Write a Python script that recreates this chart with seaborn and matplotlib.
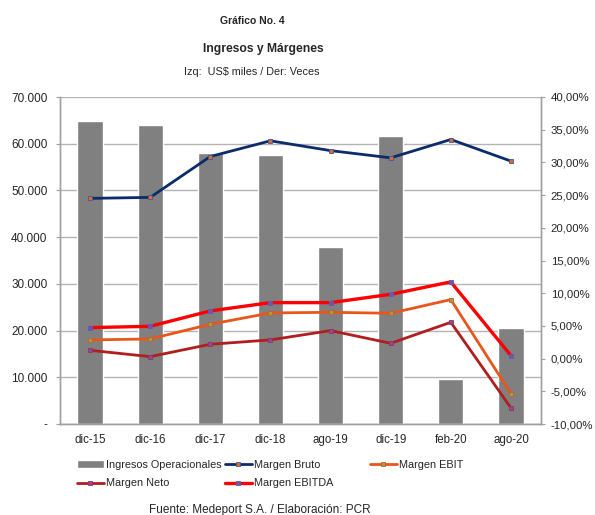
import numpy as np
import pandas as pd
import seaborn as sns
import matplotlib.pyplot as plt
from matplotlib.ticker import FuncFormatter

periodos = ['dic-15', 'dic-16', 'dic-17', 'dic-18', 'ago-19', 'dic-19', 'feb-20', 'ago-20']
ingresos = [64800, 64000, 58000, 57600, 37900, 61600, 9600, 20500]
margen_bruto = [24.5, 24.65, 30.9, 33.3, 31.8, 30.7, 33.5, 30.2]
margen_ebit = [2.86, 3.0, 5.25, 6.98, 7.08, 6.93, 9.02, -5.35]
margen_neto = [1.27, 0.3, 2.19, 2.86, 4.28, 2.34, 5.55, -7.54]
margen_ebitda = [4.74, 4.94, 7.29, 8.56, 8.56, 9.83, 11.73, 0.46]

sns.set_style('white')
plt.rcParams['font.family'] = ['Liberation Sans', 'DejaVu Sans']

df = pd.DataFrame({'periodo': periodos, 'ingresos': ingresos})
pos = np.arange(len(periodos))

fig = plt.figure(figsize=(5.95, 5.15), dpi=100)
ax = fig.add_axes([60 / 595, 1 - 424 / 515, 481 / 595, 327 / 515])

sns.barplot(data=df, x='periodo', y='ingresos', color='#808080', saturation=1,
            width=0.42, ax=ax, label='Ingresos Operacionales', zorder=2)
ax.set_ylim(0, 70000)
ax.set_yticks(np.arange(0, 70001, 10000))
ax.yaxis.set_major_formatter(FuncFormatter(
    lambda v, p: '-' if v == 0 else f'{int(v):,}'.replace(',', '.')))
ax.yaxis.grid(True, color='#b4b4b4', lw=1, zorder=0)
ax.set_axisbelow(True)
ax.set_xlim(-0.5, 7.5)
ax.set_xlabel('')
ax.set_ylabel('')
ax.set_xticks(pos)
ax.set_xticklabels(periodos)
ax.set_xticks(np.arange(-0.5, 8, 1), minor=True)
ax.tick_params(axis='x', which='major', length=0, pad=7, labelsize=8.3)
ax.tick_params(axis='x', which='minor', length=4, color='#a0a0a0', direction='out')
ax.tick_params(axis='y', length=3, color='#a0a0a0', labelsize=8.5, pad=6, left=True)

ax2 = ax.twinx()
series = [
    ('Margen Bruto', margen_bruto, '#0b2b6b', 2.0, '#e06a20', '#3a5aa0'),
    ('Margen EBIT', margen_ebit, '#e8561a', 2.0, '#a0a040', '#c06030'),
    ('Margen Neto', margen_neto, '#b01e1e', 2.0, '#8050a0', '#a03050'),
    ('Margen EBITDA', margen_ebitda, '#ff0000', 2.4, '#8050a0', '#5060c0'),
]
for name, vals, col, lw, mfc, mec in series:
    sns.lineplot(x=pos, y=vals, ax=ax2, color=col, lw=lw, marker='s', markersize=3,
                 markerfacecolor=mfc, markeredgecolor=mec, markeredgewidth=0.6,
                 label=name, zorder=3)
ax2.set_ylim(-10, 40)
ax2.set_yticks(np.arange(-10, 41, 5))
ax2.yaxis.set_major_formatter(FuncFormatter(lambda v, p: f'{v:.2f}'.replace('.', ',') + '%'))
ax2.tick_params(axis='y', length=3, color='#a0a0a0', labelsize=8.2, pad=4, right=True)
ax2.set_ylabel('')

for a in (ax, ax2):
    a.spines['top'].set_visible(False)
    for s in ('left', 'right', 'bottom'):
        a.spines[s].set_color('#a0a0a0')
        a.spines[s].set_linewidth(1)

h1, l1 = ax.get_legend_handles_labels()
h2, l2 = ax2.get_legend_handles_labels()
ax.get_legend().remove()
ax2.get_legend().remove()
hd = dict(zip(l1 + l2, h1 + h2))

order = ['Ingresos Operacionales', 'Margen Neto', 'Margen Bruto', 'Margen EBITDA']
leg1 = fig.legend([hd[k] for k in order], order, ncol=2, loc='upper left',
                  bbox_to_anchor=(67 / 595, 1 - 450 / 515), frameon=False, fontsize=7.8,
                  handlelength=2.5, handletextpad=0.2, columnspacing=0.3,
                  labelspacing=0.8)
leg2 = fig.legend([hd['Margen EBIT']], ['Margen EBIT'], loc='upper left',
                  bbox_to_anchor=(360 / 595, 1 - 450 / 515), frameon=False, fontsize=7.8,
                  handlelength=2.5, handletextpad=0.2)

fig.text(252 / 595, 1 - 21 / 515, 'Gráfico No. 4', ha='center', va='center',
         fontsize=7.5, fontweight='bold')
fig.text(263 / 595, 1 - 49 / 515, 'Ingresos y Márgenes', ha='center', va='center',
         fontsize=8.7, fontweight='bold')
fig.text(252 / 595, 1 - 72 / 515, 'Izq:  US$ miles / Der: Veces', ha='center', va='center',
         fontsize=7.8)
fig.text(260 / 595, 1 - 510 / 515, 'Fuente: Medeport S.A. / Elaboración: PCR', ha='center',
         va='center', fontsize=8.5)

fig.savefig('out.png', dpi=100)
